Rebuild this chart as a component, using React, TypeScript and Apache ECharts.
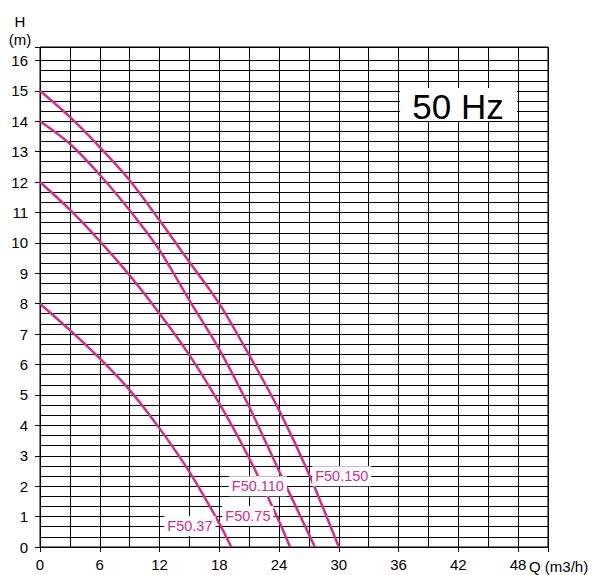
import React, { useEffect, useRef } from "react";
import * as echarts from "echarts";

// Pump curves (Q in m3/h, H in m)
const f37Q = [0, 3, 6, 9, 12, 15, 18, 19.2];
const f37H = [8, 7.13, 6.2, 5.16, 3.9, 2.47, 0.78, 0];
const f75Q = [0, 3, 6, 9, 12, 15, 18, 21, 24, 25.1];
const f75H = [12, 11.09, 10.06, 8.93, 7.68, 6.31, 4.72, 2.92, 0.85, 0];
const f110Q = [0, 3, 6, 9, 12, 15, 18, 21, 24, 27.6];
const f110H = [14, 13.26, 12.24, 11.07, 9.76, 8.11, 6.5, 4.61, 2.5, 0];
const f150Q = [0, 3, 6, 9, 12, 15, 18, 21, 24, 27, 30];
const f150H = [15, 14.14, 13.15, 12.06, 10.74, 9.37, 8.0, 6.31, 4.5, 2.4, 0];

const seriesNames = ["F50.37", "F50.75", "F50.110", "F50.150"];
const labelQ = [15.05, 20.87, 21.87, 30.3];
const labelH = [0.69, 1.02, 2.0, 2.33];

const xTickLabels = [0, 6, 12, 18, 24, 30, 36, 42, 48];
const yTickLabels = [0, 1, 2, 3, 4, 5, 6, 7, 8, 9, 10, 11, 12, 13, 14, 15, 16];

const FONT = "'Liberation Sans', Arial, Helvetica, sans-serif";
const CURVE = "#d22e8e";

export default function App() {
  const ref = useRef<HTMLDivElement>(null);
  useEffect(() => {
    if (!ref.current) return;
    const chart = echarts.init(ref.current, null, { renderer: "svg" });

    // horizontal minor grid lines at thirds of a metre (excluding integers)
    const hLines: number[] = [];
    for (let i = 0; i < yTickLabels.length - 1; i++) {
      hLines.push(yTickLabels[i] + 1 / 3, yTickLabels[i] + 2 / 3);
    }

    const curves = [
      [f37Q, f37H],
      [f75Q, f75H],
      [f110Q, f110H],
      [f150Q, f150H],
    ];

    const series: any[] = curves.map((c, i) => ({
      name: seriesNames[i],
      type: "line",
      xAxisIndex: 0,
      yAxisIndex: 0,
      smooth: 0.3,
      showSymbol: false,
      symbol: "none",
      z: 10,
      lineStyle: { color: CURVE, width: 2.5 },
      data: c[0].map((q, j) => [q, c[1][j]]),
      markPoint: {
        silent: true,
        symbol: "circle",
        symbolSize: 1,
        itemStyle: { color: "rgba(0,0,0,0)" },
        z: 12,
        label: {
          show: true,
          position: "inside",
          formatter: seriesNames[i],
          color: CURVE,
          fontSize: 14.5,
          fontFamily: FONT,
          backgroundColor: "#fff",
          padding: [3, 3, 2, 3],
        },
        data: [{ coord: [labelQ[i], labelH[i]] }],
      },
    }));

    series.unshift({
      name: "grid",
      type: "line",
      xAxisIndex: 0,
      yAxisIndex: 0,
      z: 1,
      symbol: "none",
      lineStyle: { opacity: 0 },
      data: [[0, 0]],
      markLine: {
        silent: true,
        z: 1,
        symbol: ["none", "none"],
        label: { show: false },
        lineStyle: { color: "#000", width: 1, type: "solid" },
        data: hLines.map((v) => ({ yAxis: v })),
      },
    });

    chart.setOption({
      animation: false,
      backgroundColor: "#fff",
      grid: {
        left: 40,
        right: 44,
        top: 47,
        bottom: 28,
        show: true,
        borderColor: "#000",
        borderWidth: 1,
        backgroundColor: "transparent",
      },
      xAxis: [
        {
          type: "value",
          min: 0,
          max: 51,
          interval: 6,
          axisLine: { show: true, lineStyle: { color: "#000", width: 1 } },
          axisTick: { show: true, length: 5, lineStyle: { color: "#000" } },
          axisLabel: {
            margin: 10,
            fontSize: 15,
            color: "#000",
            fontFamily: FONT,
            formatter: (v: number) => (xTickLabels.indexOf(v) >= 0 ? String(v) : ""),
          },
          splitLine: { show: false },
        },
        {
          type: "value",
          min: 0,
          max: 51,
          interval: 3,
          position: "bottom",
          axisLine: { show: false },
          axisTick: { show: false },
          axisLabel: { show: false },
          splitLine: { show: true, lineStyle: { color: "#000", width: 1 } },
        },
      ],
      yAxis: [
        {
          type: "value",
          min: 0,
          max: 16.44,
          interval: 1,
          axisLine: { show: true, lineStyle: { color: "#000", width: 1 } },
          axisTick: { show: true, length: 5, lineStyle: { color: "#000" } },
          axisLabel: {
            margin: 12,
            fontSize: 15,
            color: "#000",
            fontFamily: FONT,
            formatter: (v: number) => (yTickLabels.indexOf(v) >= 0 ? String(v) : ""),
          },
          splitLine: { show: true, lineStyle: { color: "#000", width: 1 } },
        },
      ],
      graphic: [
        {
          type: "text",
          z: 100,
          x: 20,
          y: 21,
          style: { text: "H", fill: "#000", font: `15px ${FONT}`, align: "center", verticalAlign: "middle" },
        },
        {
          type: "text",
          z: 100,
          x: 20,
          y: 39,
          style: { text: "(m)", fill: "#000", font: `15px ${FONT}`, align: "center", verticalAlign: "middle" },
        },
        {
          type: "text",
          z: 100,
          x: 529,
          y: 566,
          style: { text: "Q (m3/h)", fill: "#000", font: `15px ${FONT}`, align: "left", verticalAlign: "middle" },
        },
        {
          type: "rect",
          z: 100,
          shape: { x: 400, y: 88, width: 117, height: 33 },
          style: { fill: "#fff" },
        },
        {
          type: "text",
          z: 101,
          x: 458,
          y: 106,
          style: { text: "50 Hz", fill: "#000", font: `35px ${FONT}`, align: "center", verticalAlign: "middle" },
        },
      ],
      series,
    });
    return () => chart.dispose();
  }, []);
  return (
    <div
      ref={ref}
      style={{ position: "absolute", left: 0, top: 0, width: 592, height: 575 }}
    />
  );
}
